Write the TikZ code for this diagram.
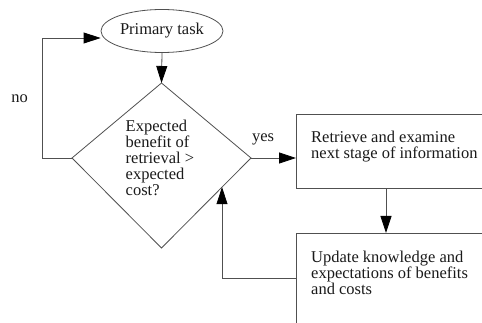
\documentclass[tikz,border=0pt]{standalone}
\usepackage{fontspec}
\setmainfont{Liberation Serif}
\usetikzlibrary{arrows.meta,shapes.geometric,calc}
\definecolor{linegray}{HTML}{505050}
\definecolor{ink}{HTML}{1A1A1A}
\begin{document}
\begin{tikzpicture}[x=1pt,y=-1pt,
  line/.style={draw=linegray, line width=0.8pt},
  arr/.style={line, -{Triangle[length=17pt,width=11pt,fill=black,color=black]}},
  lbl/.style={font=\fontsize{16.5}{16}\selectfont, text=ink, inner sep=0pt},
  txt/.style={lbl, align=left, anchor=north west},
  boxnode/.style={line, rectangle, inner sep=0pt, anchor=north west}]
\useasboundingbox (0,0) rectangle (482,323);
\clip (0,0) rectangle (482,323);
\fill[white] (0,0) rectangle (482,323);

% start of the loop
\node[line, ellipse, lbl, minimum width=122pt, minimum height=43pt] (prim) at (162,31) {Primary task};

% decision diamond
\coordinate (dtop) at (161.5,83);
\coordinate (dleft) at (72,158);
\coordinate (dright) at (251,158);
\coordinate (dbot) at (161.5,248);
\draw[line] (dtop) -- (dright) -- (dbot) -- (dleft) -- cycle;
\node[txt] (qtext) at (125.5,120) {Expected\\benefit of\\retrieval >\\expected\\cost?};

% process boxes (running off the page edge)
\node[boxnode, minimum width=220pt, minimum height=74pt] (retr) at (296,114) {};
\node[txt] (retrtext) at (311,131) {Retrieve and examine\\next stage of information};
\node[boxnode, minimum width=220pt, minimum height=110pt] (upd) at (296,233) {};
\node[txt] (updtext) at (311,250.5) {Update knowledge and\\expectations of benefits\\and costs};

% connectors
\draw[arr] (prim.south) -- (dtop);
\draw[arr] (dright) -- (dright -| retr.west);
\draw[arr] ([xshift=90pt]retr.south west) -- ([xshift=90pt]upd.north west);
\coordinate (fbin) at ($(dright)!0.324!(dbot)$);
\coordinate (fbout) at ($(upd.north west)+(0,45)$);
\draw[arr] (fbout) -| (fbin);
\coordinate (nocorner) at (42,38);
\draw[arr] (dleft) -- (dleft -| nocorner) -- (nocorner) -- (nocorner -| prim.west);

% branch labels
\node[lbl] (nolbl) at (19.5,99) {no};
\node[lbl] (yeslbl) at (263,139) {yes};
\end{tikzpicture}
\end{document}
